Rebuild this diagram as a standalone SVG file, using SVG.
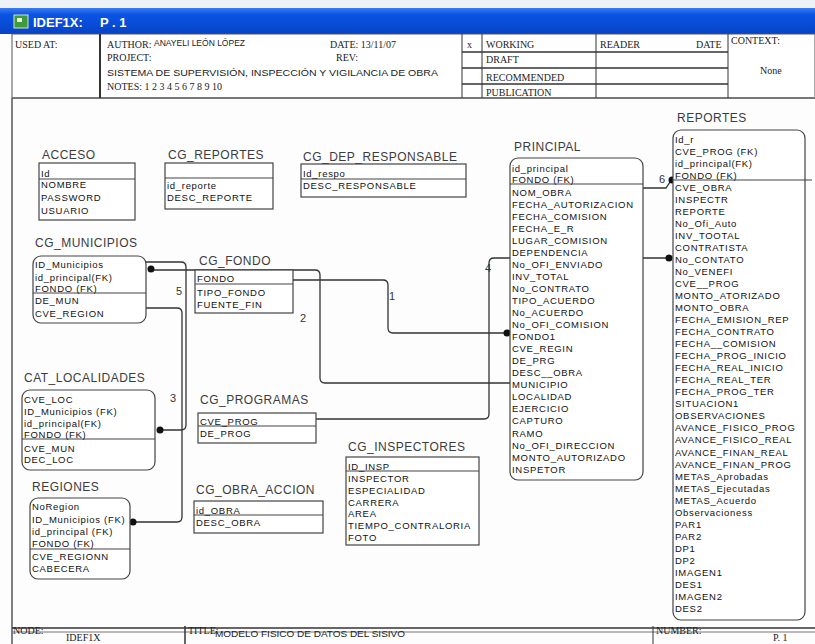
<svg xmlns="http://www.w3.org/2000/svg" width="815" height="644" viewBox="0 0 815 644">
<defs>
<linearGradient id="bar" x1="0" y1="0" x2="0" y2="1">
<stop offset="0" stop-color="#3b7cf2"/><stop offset="0.25" stop-color="#0a54e4"/><stop offset="1" stop-color="#0743c6"/>
</linearGradient>
</defs>
<style>
.t{font-family:"Liberation Sans",Arial,sans-serif;font-size:12px;fill:#3c3c3c;letter-spacing:0.5px}
.a{font-family:"Liberation Sans",Arial,sans-serif;font-size:9.5px;fill:#111;letter-spacing:0.7px}
.s{font-family:"Liberation Serif","Times New Roman",serif;font-size:10px;fill:#222}
.h{font-family:"Liberation Sans",Arial,sans-serif;font-size:8.5px;fill:#222}
.n{font-family:"Liberation Sans",Arial,sans-serif;font-size:11px;fill:#333}
.box{fill:#fff;stroke:#444;stroke-width:1.2}
.dv{stroke:#444;stroke-width:1.2}
.c{fill:none;stroke:#333;stroke-width:1.3}
.ln{stroke:#333;stroke-width:1}
</style>
<rect x="0" y="0" width="815" height="644" fill="#fdfdfd"/>
<rect x="0" y="0" width="815" height="8" fill="#eef1f6"/>
<g id="titlebar">
<rect x="0" y="8" width="815" height="26" fill="url(#bar)"/>
<rect x="14" y="15" width="14" height="13" fill="#3f9a3a" stroke="#cfe8c8" stroke-width="1"/>
<rect x="17" y="18" width="5" height="4" fill="#e8f4e0"/>
<text x="33" y="27" font-family="Liberation Sans,Arial,sans-serif" font-size="13" font-weight="bold" fill="#fff">IDEF1X:</text>
<text x="100" y="27" font-family="Liberation Sans,Arial,sans-serif" font-size="13" font-weight="bold" fill="#fff">P . 1</text>
</g>
<g id="header">
<rect x="12" y="34" width="803" height="64" fill="#fff" stroke="#555" stroke-width="1"/>
<line x1="12" y1="98" x2="815" y2="98" stroke="#777" stroke-width="2"/>
<line x1="100" y1="34" x2="100" y2="98" stroke="#333" stroke-width="2"/>
<text class="s" x="15" y="48">USED AT:</text>
<text class="s" x="107" y="48" font-size="9.5">AUTHOR:</text>
<text class="h" x="154" y="46" font-size="8">ANAYELI LEÓN LÓPEZ</text>
<text class="s" x="330" y="48">DATE:  13/11/07</text>
<text class="s" x="107" y="61">PROJECT:</text>
<text class="s" x="336" y="61">REV:</text>
<text class="h" x="107" y="76" textLength="331" lengthAdjust="spacingAndGlyphs">SISTEMA DE SUPERVISIÓN, INSPECCIÓN Y VIGILANCIA DE OBRA</text>
<text class="s" x="107" y="90">NOTES:  1 2 3 4 5 6 7 8 9 10</text>
<line class="ln" x1="462" y1="34" x2="462" y2="98"/>
<line class="ln" x1="482" y1="34" x2="482" y2="98"/>
<line class="ln" x1="596" y1="34" x2="596" y2="98"/>
<line class="ln" x1="728" y1="34" x2="728" y2="98"/>
<line x1="462" y1="52" x2="728" y2="52" stroke="#333" stroke-width="1.5"/>
<line x1="462" y1="68" x2="728" y2="68" stroke="#333" stroke-width="1.5"/>
<line x1="462" y1="84" x2="728" y2="84" stroke="#333" stroke-width="1.5"/>
<text class="s" x="467" y="48">x</text>
<text class="s" x="486" y="48">WORKING</text>
<text class="s" x="486" y="63">DRAFT</text>
<text class="s" x="486" y="81">RECOMMENDED</text>
<text class="s" x="486" y="96">PUBLICATION</text>
<text class="s" x="600" y="48">READER</text>
<text class="s" x="696" y="48">DATE</text>
<text class="s" x="731" y="44" font-size="7">CONTEXT:</text>
<text class="s" x="760" y="74" font-size="8">None</text>
</g>
<g id="frame">
<line x1="12" y1="98" x2="12" y2="644" stroke="#555" stroke-width="1.5"/>
<line x1="12" y1="628" x2="815" y2="628" stroke="#333" stroke-width="1.5"/>
<line x1="12" y1="632" x2="815" y2="632" stroke="#777" stroke-width="1"/>
<line x1="185" y1="626" x2="185" y2="644" stroke="#333" stroke-width="1.5"/>
<line x1="653" y1="626" x2="653" y2="644" stroke="#333" stroke-width="1"/>
<text class="s" x="13" y="634" font-size="9">NODE:</text>
<text class="s" x="66" y="641">IDEF1X</text>
<text class="s" x="188" y="634" font-size="8">TITLE:</text>
<text class="h" x="215" y="637" font-size="8" textLength="190" lengthAdjust="spacingAndGlyphs">MODELO FISICO DE DATOS DEL SISIVO</text>
<text class="s" x="656" y="634" font-size="9">NUMBER:</text>
<text class="s" x="773" y="641">P. 1</text>
</g>
<g id="connectors">
<path class="c" d="M146,262 H181 Q186,262 186,267 V425 Q186,430 181,430 H163"/>
<circle cx="160" cy="430" r="3.5" fill="#111"/>
<path class="c" d="M146,308 H177 Q182,308 182,313 V517 Q182,522 177,522 H136"/>
<circle cx="133" cy="522" r="3.5" fill="#111"/>
<path class="c" d="M510,383 H325 Q320,383 320,378 V275 Q320,270 315,270 H154"/>
<circle cx="151" cy="269" r="3.5" fill="#111"/>
<path class="c" d="M293,280 H383 Q388,280 388,285 V328 Q388,333 393,333 H504"/>
<circle cx="507" cy="333" r="3.5" fill="#111"/>
<path class="c" d="M316,419 H484 Q489,419 489,414 V263 Q489,258 494,258 H666"/>
<circle cx="669" cy="258" r="3.5" fill="#111"/>
<path class="c" d="M643,188 H666 L670,182"/>
<circle cx="672" cy="180" r="3.5" fill="#111"/>
<text class="n" x="176" y="295">5</text>
<text class="n" x="170" y="402">3</text>
<text class="n" x="300" y="322">2</text>
<text class="n" x="389" y="300">1</text>
<text class="n" x="485" y="272">4</text>
<text class="n" x="659" y="183">6</text>
</g>
<g id="acceso">
<text class="t" x="42" y="159">ACCESO</text>
<rect class="box" x="39" y="163" width="96" height="57"/>
<line class="dv" x1="39" y1="179" x2="135" y2="179"/>
<text class="a" x="41" y="176.5">Id</text>
<text class="a" x="41" y="188">NOMBRE</text>
<text class="a" x="41" y="200.5">PASSWORD</text>
<text class="a" x="41" y="213.5">USUARIO</text>
</g>
<g id="cg_reportes">
<text class="t" x="168" y="159">CG_REPORTES</text>
<rect class="box" x="165" y="163" width="108" height="46"/>
<line class="dv" x1="165" y1="178" x2="273" y2="178"/>
<text class="a" x="167" y="189">id_reporte</text>
<text class="a" x="167" y="201">DESC_REPORTE</text>
</g>
<g id="cg_dep_responsable">
<text class="t" x="303" y="161">CG_DEP_RESPONSABLE</text>
<rect class="box" x="301" y="164" width="165" height="33"/>
<line class="dv" x1="301" y1="179" x2="466" y2="179"/>
<text class="a" x="303" y="176.5">Id_respo</text>
<text class="a" x="303" y="188.5">DESC_RESPONSABLE</text>
</g>
<g id="cg_municipios">
<text class="t" x="35" y="247">CG_MUNICIPIOS</text>
<rect class="box" x="33" y="256" width="113" height="67" rx="8"/>
<line class="dv" x1="33" y1="293" x2="146" y2="293"/>
<text class="a" x="35" y="268">ID_Municipios</text>
<text class="a" x="35" y="280.5">id_principal(FK)</text>
<text class="a" x="35" y="291.5">FONDO (FK)</text>
<text class="a" x="35" y="303.5">DE_MUN</text>
<text class="a" x="35" y="316.5">CVE_REGION</text>
</g>
<g id="cg_fondo">
<text class="t" x="199" y="265">CG_FONDO</text>
<rect class="box" x="195" y="270" width="98" height="43"/>
<line class="dv" x1="195" y1="284" x2="293" y2="284"/>
<text class="a" x="197" y="282">FONDO</text>
<text class="a" x="197" y="295.5">TIPO_FONDO</text>
<text class="a" x="197" y="307.5">FUENTE_FIN</text>
</g>
<g id="cat_localidades">
<text class="t" x="24" y="382">CAT_LOCALIDADES</text>
<rect class="box" x="22" y="390" width="133" height="80" rx="8"/>
<line class="dv" x1="22" y1="439" x2="155" y2="439"/>
<text class="a" x="24" y="403">CVE_LOC</text>
<text class="a" x="24" y="414.5">ID_Municipios (FK)</text>
<text class="a" x="24" y="426.5">id_principal(FK)</text>
<text class="a" x="24" y="438">FONDO (FK)</text>
<text class="a" x="24" y="451.5">CVE_MUN</text>
<text class="a" x="24" y="462.5">DEC_LOC</text>
</g>
<g id="cg_programas">
<text class="t" x="200" y="404">CG_PROGRAMAS</text>
<rect class="box" x="198" y="413" width="118" height="30"/>
<line class="dv" x1="198" y1="426" x2="316" y2="426"/>
<text class="a" x="200" y="424.5">CVE_PROG</text>
<text class="a" x="200" y="437">DE_PROG</text>
</g>
<g id="regiones">
<text class="t" x="32" y="491">REGIONES</text>
<rect class="box" x="30" y="498" width="100" height="81" rx="8"/>
<line class="dv" x1="30" y1="549" x2="130" y2="549"/>
<text class="a" x="32" y="510">NoRegion</text>
<text class="a" x="32" y="522.5">ID_Municipios (FK)</text>
<text class="a" x="32" y="535">id_principal (FK)</text>
<text class="a" x="32" y="547">FONDO (FK)</text>
<text class="a" x="32" y="559.5">CVE_REGIONN</text>
<text class="a" x="32" y="571.5">CABECERA</text>
</g>
<g id="cg_obra_accion">
<text class="t" x="196" y="494">CG_OBRA_ACCION</text>
<rect class="box" x="194" y="501" width="129" height="32"/>
<line class="dv" x1="194" y1="515" x2="323" y2="515"/>
<text class="a" x="196" y="513.5">id_OBRA</text>
<text class="a" x="196" y="525.5">DESC_OBRA</text>
</g>
<g id="cg_inspectores">
<text class="t" x="348" y="451">CG_INSPECTORES</text>
<rect class="box" x="346" y="457" width="133" height="88"/>
<line class="dv" x1="346" y1="471" x2="479" y2="471"/>
<text class="a" x="348" y="469.5">ID_INSP</text>
<text class="a" x="348" y="481.5">INSPECTOR</text>
<text class="a" x="348" y="493.5">ESPECIALIDAD</text>
<text class="a" x="348" y="505.5">CARRERA</text>
<text class="a" x="348" y="516.5">AREA</text>
<text class="a" x="348" y="528.5">TIEMPO_CONTRALORIA</text>
<text class="a" x="348" y="540.5">FOTO</text>
</g>
<g id="principal">
<text class="t" x="514" y="151">PRINCIPAL</text>
<rect class="box" x="510" y="158" width="133" height="322" rx="8"/>
<line class="dv" x1="510" y1="184" x2="643" y2="184"/>
<text class="a" x="512" y="171.5">id_principal</text>
<text class="a" x="512" y="183">FONDO (FK)</text>
<text class="a" x="512" y="195.5">NOM_OBRA</text>
<text class="a" x="512" y="207.5">FECHA_AUTORIZACION</text>
<text class="a" x="512" y="219.5">FECHA_COMISION</text>
<text class="a" x="512" y="231.5">FECHA_E_R</text>
<text class="a" x="512" y="243.5">LUGAR_COMISION</text>
<text class="a" x="512" y="255.5">DEPENDENCIA</text>
<text class="a" x="512" y="267.5">No_OFI_ENVIADO</text>
<text class="a" x="512" y="280">INV_TOTAL</text>
<text class="a" x="512" y="292">No_CONTRATO</text>
<text class="a" x="512" y="304">TIPO_ACUERDO</text>
<text class="a" x="512" y="316">No_ACUERDO</text>
<text class="a" x="512" y="328">No_OFI_COMISION</text>
<text class="a" x="512" y="340">FONDO1</text>
<text class="a" x="512" y="352">CVE_REGIN</text>
<text class="a" x="512" y="364">DE_PRG</text>
<text class="a" x="512" y="376">DESC__OBRA</text>
<text class="a" x="512" y="388">MUNICIPIO</text>
<text class="a" x="512" y="400">LOCALIDAD</text>
<text class="a" x="512" y="412">EJERCICIO</text>
<text class="a" x="512" y="424">CAPTURO</text>
<text class="a" x="512" y="436.5">RAMO</text>
<text class="a" x="512" y="448.5">No_OFI_DIRECCION</text>
<text class="a" x="512" y="460.5">MONTO_AUTORIZADO</text>
<text class="a" x="512" y="472.5">INSPETOR</text>
</g>
<g id="reportes">
<text class="t" x="677" y="122">REPORTES</text>
<rect class="box" x="673" y="130" width="132" height="490" rx="8"/>
<line class="dv" x1="673" y1="180" x2="812" y2="180"/>
<text class="a" x="675" y="142.5">Id_r</text>
<text class="a" x="675" y="154.5">CVE_PROG (FK)</text>
<text class="a" x="675" y="166.5">id_principal(FK)</text>
<text class="a" x="675" y="178.5">FONDO (FK)</text>
<text class="a" x="675" y="190.5">CVE_OBRA</text>
<text class="a" x="675" y="202.5">INSPECTR</text>
<text class="a" x="675" y="214.5">REPORTE</text>
<text class="a" x="675" y="226.5">No_Ofi_Auto</text>
<text class="a" x="675" y="238.5">INV_TOOTAL</text>
<text class="a" x="675" y="251">CONTRATISTA</text>
<text class="a" x="675" y="263">No_CONTATO</text>
<text class="a" x="675" y="275">No_VENEFI</text>
<text class="a" x="675" y="287">CVE__PROG</text>
<text class="a" x="675" y="299">MONTO_ATORIZADO</text>
<text class="a" x="675" y="311">MONTO_OBRA</text>
<text class="a" x="675" y="323">FECHA_EMISION_REP</text>
<text class="a" x="675" y="335">FECHA_CONTRATO</text>
<text class="a" x="675" y="347">FECHA__COMISION</text>
<text class="a" x="675" y="359">FECHA_PROG_INICIO</text>
<text class="a" x="675" y="371">FECHA_REAL_INICIO</text>
<text class="a" x="675" y="383">FECHA_REAL_TER</text>
<text class="a" x="675" y="395">FECHA_PROG_TER</text>
<text class="a" x="675" y="407">SITUACION1</text>
<text class="a" x="675" y="419">OBSERVACIONES</text>
<text class="a" x="675" y="431">AVANCE_FISICO_PROG</text>
<text class="a" x="675" y="443">AVANCE_FISICO_REAL</text>
<text class="a" x="675" y="455.5">AVANCE_FINAN_REAL</text>
<text class="a" x="675" y="467.5">AVANCE_FINAN_PROG</text>
<text class="a" x="675" y="479.5">METAS_Aprobadas</text>
<text class="a" x="675" y="491.5">METAS_Ejecutadas</text>
<text class="a" x="675" y="503.5">METAS_Acuerdo</text>
<text class="a" x="675" y="515.5">Observacioness</text>
<text class="a" x="675" y="527.5">PAR1</text>
<text class="a" x="675" y="539.5">PAR2</text>
<text class="a" x="675" y="551.5">DP1</text>
<text class="a" x="675" y="563.5">DP2</text>
<text class="a" x="675" y="575.5">IMAGEN1</text>
<text class="a" x="675" y="587.5">DES1</text>
<text class="a" x="675" y="599.5">IMAGEN2</text>
<text class="a" x="675" y="611.5">DES2</text>
</g>
</svg>
